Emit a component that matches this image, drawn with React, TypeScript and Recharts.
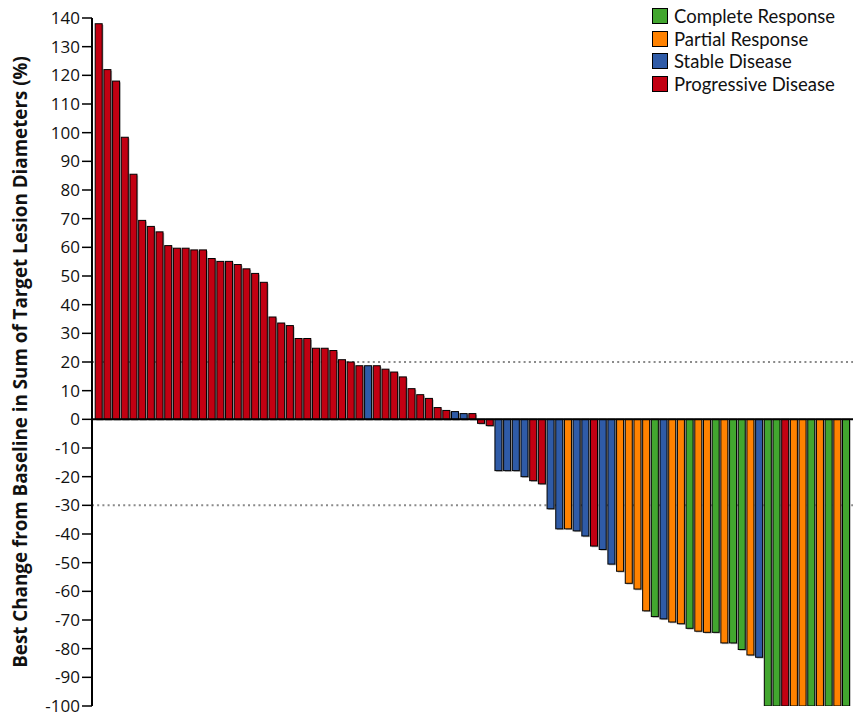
import React from 'react';
import { BarChart, Bar, XAxis, YAxis, ReferenceLine, Cell } from 'recharts';

const values: number[] = [
  138, 122, 118, 98.4, 85.5, 69.4, 67.3, 65.4, 60.6, 59.7, 59.7, 59.1, 59.1, 56.1, 55.1, 55.1, 54, 52.5, 50.9, 47.8,
  35.7, 33.6, 32.7, 28.2, 28.2, 24.8, 24.8, 24.0, 20.8, 20.0, 18.7, 18.7, 18.7, 17.5, 16.5, 14.8, 10.7, 8.6, 7.3, 4.1,
  3.1, 2.7, 2.0, 2.0, -1.4, -2.2, -17.9, -17.9, -17.9, -20, -21.4, -22.5, -31.2, -38.2, -38.2, -38.9, -40.7, -44.2, -45.4, -50.5,
  -53, -57.2, -59.2, -66.8, -68.8, -69.6, -70.7, -71.3, -72.9, -73.9, -74.3, -74.3, -78, -78, -80.3, -82.2, -83, -100, -100, -100,
  -100, -100, -100, -100, -100, -100, -100,
];

const responses: string[] = [
  'PD', 'PD', 'PD', 'PD', 'PD', 'PD', 'PD', 'PD', 'PD', 'PD', 'PD', 'PD', 'PD', 'PD', 'PD', 'PD', 'PD', 'PD', 'PD', 'PD',
  'PD', 'PD', 'PD', 'PD', 'PD', 'PD', 'PD', 'PD', 'PD', 'PD', 'PD', 'SD', 'PD', 'PD', 'PD', 'PD', 'PD', 'PD', 'PD', 'PD',
  'PD', 'SD', 'SD', 'PD', 'PD', 'PD', 'SD', 'SD', 'SD', 'SD', 'PD', 'PD', 'SD', 'SD', 'PR', 'SD', 'SD', 'PD', 'SD', 'SD',
  'PR', 'PR', 'PR', 'PR', 'CR', 'SD', 'PR', 'PR', 'CR', 'PR', 'PR', 'CR', 'PR', 'CR', 'CR', 'PR', 'SD', 'CR', 'CR', 'PD',
  'PR', 'PR', 'CR', 'PR', 'CR', 'PR', 'CR',
];

const legendKeys: string[] = ['CR', 'PR', 'SD', 'PD'];
const legendLabels: string[] = ['Complete Response', 'Partial Response', 'Stable Disease', 'Progressive Disease'];
const yTicks: number[] = [140, 130, 120, 110, 100, 90, 80, 70, 60, 50, 40, 30, 20, 10, 0, -10, -20, -30, -40, -50, -60, -70, -80, -90, -100];
const thresholds: number[] = [20, -30];

const COLORS: Record<string, string> = {
  CR: '#42A62F',
  PR: '#FF8200',
  SD: '#2F5BA7',
  PD: '#C20012',
};

const data = values.map((v, i) => ({ id: i + 1, value: v, resp: responses[i] }));

const FONT = '"Open Sans", Lato, sans-serif';
const LEGEND_FONT = 'Lato, "Noto Sans", sans-serif';

const BarShape = (props: any) => {
  const { x, y, width, height, fill } = props;
  const top = Math.min(y, y + height);
  const h = Math.abs(height);
  return (
    <g>
      <rect x={x + 1.2} y={top + 1.2} width={width} height={h} fill="#8c8c8c" fillOpacity={0.7} />
      <rect x={x} y={top} width={width} height={h} fill={fill} stroke="#000" strokeWidth={1} />
    </g>
  );
};

export default function App() {
  return (
    <div style={{ position: 'relative', width: 865, height: 715, marginLeft: -6, marginTop: -6 }}>
      <BarChart
        width={865}
        height={715}
        data={data}
        margin={{ top: 16, right: 14, bottom: 11, left: 6 }}
        barCategoryGap={0.7}
      >
        <XAxis dataKey="id" hide padding={{ left: 2.5, right: 2.5 }} />
        <YAxis
          type="number"
          domain={[-100, 140]}
          ticks={yTicks}
          interval={0}
          width={84}
          tickSize={10}
          tickMargin={2}
          axisLine={{ stroke: '#000', strokeWidth: 2 }}
          tickLine={{ stroke: '#000', strokeWidth: 1.5 }}
          tick={{ fill: '#111', fontSize: 17, fontFamily: FONT }}
          allowDataOverflow
          label={{
            value: 'Best Change from Baseline in Sum of Target Lesion Diameters (%)',
            angle: -90,
            position: 'insideLeft',
            offset: 12,
            style: { textAnchor: 'middle', fontFamily: FONT, fontWeight: 700, fontSize: 18.8, fill: '#111' },
          }}
        />
        {thresholds.map((t) => (
          <ReferenceLine key={t} y={t} stroke="#8a8a8a" strokeWidth={2} strokeDasharray="2 3.2" zIndex={-1} />
        ))}
        <Bar dataKey="value" isAnimationActive={false} shape={<BarShape />}>
          {data.map((d) => (
            <Cell key={d.id} fill={COLORS[d.resp]} />
          ))}
        </Bar>
        <ReferenceLine y={0} stroke="#000" strokeWidth={2} />
      </BarChart>
      <div
        style={{
          position: 'absolute',
          top: 3,
          left: 650,
          fontFamily: LEGEND_FONT,
          fontSize: 18.5,
          color: '#111',
          lineHeight: '22.5px',
        }}
      >
        {legendKeys.map((k, i) => (
          <div key={k} style={{ display: 'flex', alignItems: 'center', whiteSpace: 'nowrap' }}>
            <span
              style={{
                display: 'inline-block',
                width: 14,
                height: 14,
                background: COLORS[k],
                border: '1px solid #000',
                marginRight: 6,
              }}
            />
            <span>{legendLabels[i]}</span>
          </div>
        ))}
      </div>
    </div>
  );
}
